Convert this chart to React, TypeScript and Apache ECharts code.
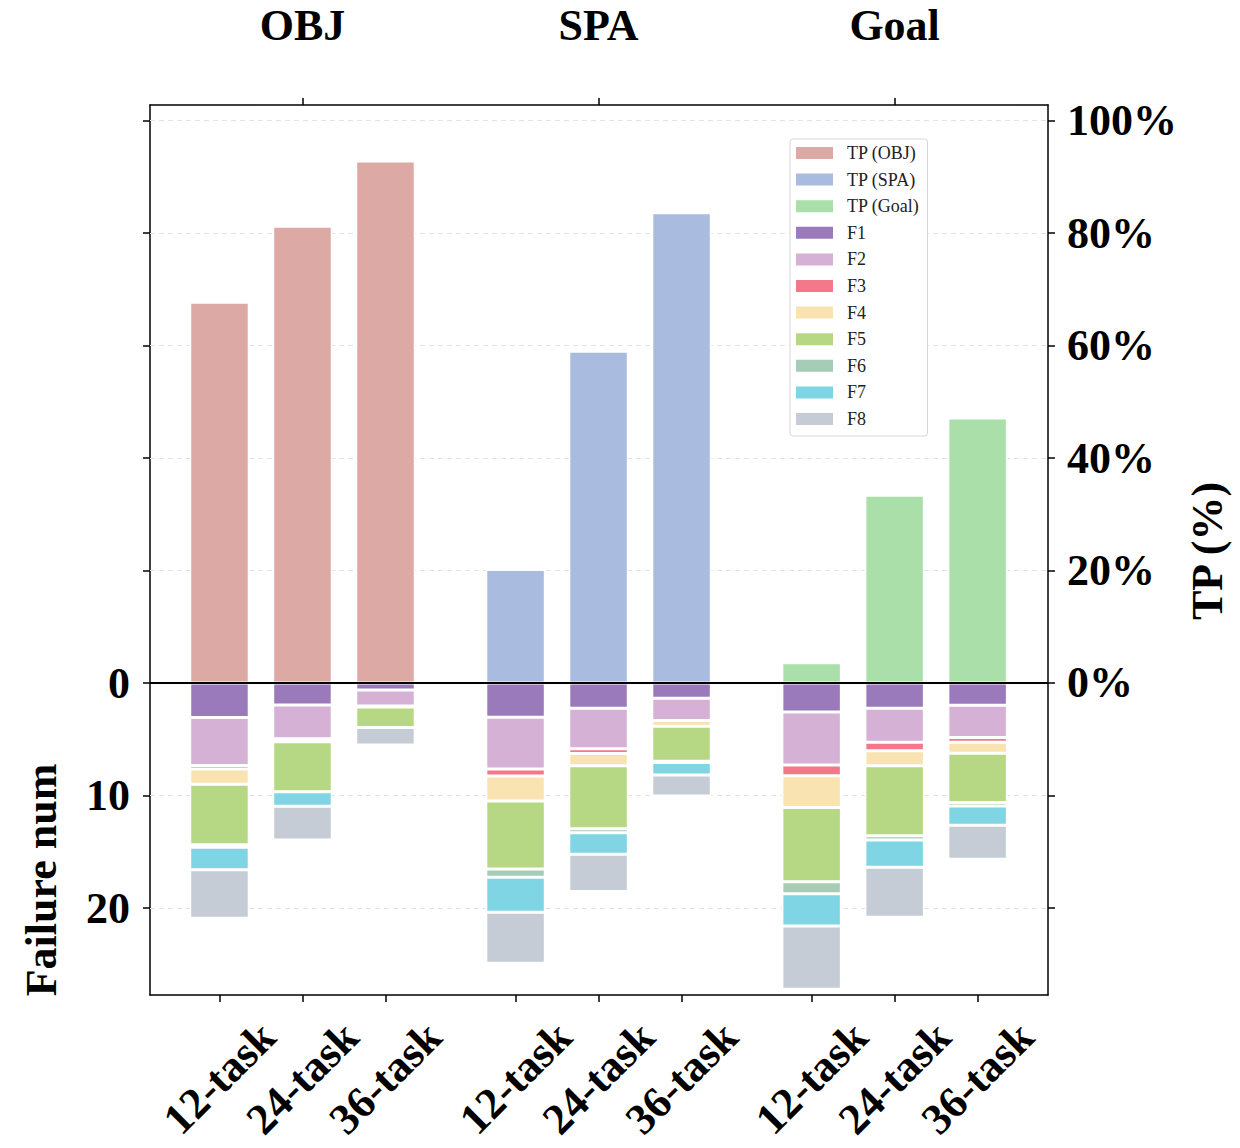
import React, { useEffect, useRef } from "react";
import * as echarts from "echarts";

// ---------- data ----------
const GROUPS = ["OBJ", "SPA", "Goal"];
const TASKS = ["12-task", "24-task", "36-task"];

const TP_OBJ = [67.7, 81.2, 92.8];
const TP_SPA = [20.2, 59.0, 83.6];
const TP_GOAL = [3.6, 33.4, 47.1];

// failure counts, ordered OBJ(12,24,36), SPA(12,24,36), Goal(12,24,36)
const F1 = [3.07, 1.96, 0.62, 3.05, 2.25, 1.35, 2.58, 2.25, 1.98];
const F2 = [4.27, 3.0, 1.42, 4.6, 3.59, 1.98, 4.71, 3.02, 2.86];
const F3 = [0.3, 0, 0, 0.62, 0.43, 0, 0.96, 0.76, 0.42];
const F4 = [1.35, 0.27, 0.1, 2.22, 1.09, 0.52, 2.82, 1.33, 0.99];
const F5 = [5.38, 4.43, 1.81, 6.04, 5.59, 3.11, 6.6, 6.22, 4.37];
const F6 = [0.22, 0, 0, 0.74, 0.36, 0.1, 1.05, 0.37, 0.31];
const F7 = [2.0, 1.29, 0, 3.11, 1.9, 1.11, 2.87, 2.42, 1.72];
const F8 = [4.31, 3.0, 1.56, 4.53, 3.33, 1.88, 5.64, 4.45, 3.02];

const FAILURE_LABELS = [0, 10, 20];
const FAILURE_TICKS = [-50, -40, -30, -20, -10, 0, 10, 20];
const PERCENT_LABELS = [0, 20, 40, 60, 80, 100];
const PERCENT_TICKS = [-40, -20, 0, 20, 40, 60, 80, 100];

// ---------- styling ----------
const TP_COLORS = ["#dca9a5", "#a9bbdf", "#abdfaa"];
const F_COLORS = ["#9a7abb", "#d5b2d5", "#f2788a", "#f9e3b1", "#b6d884", "#a5cdb5", "#7fd5e3", "#c5ccd6"];
const FONT = '"Liberation Serif", "Times New Roman", Times, serif';
const GROUP_STEP = 3.567;
const BAR_W = 59.5;
const SEP = 1.5;

const App: React.FC = () => {
  const ref = useRef<HTMLDivElement>(null);

  useEffect(() => {
    if (!ref.current) return;
    const chart = echarts.init(ref.current, null, { renderer: "svg" });

    const barPositions = GROUPS.flatMap((_, g) => TASKS.map((__, i) => g * GROUP_STEP + i));
    const groupCenters = GROUPS.map((_, g) => g * GROUP_STEP + (TASKS.length - 1) / 2);
    const findIdx = (list: number[], v: number) => list.findIndex((p) => Math.abs(p - v) < 1e-3);

    const tpLists = [TP_OBJ, TP_SPA, TP_GOAL];
    const fLists = [F1, F2, F3, F4, F5, F6, F7, F8];
    const tpNames = GROUPS.map((g) => `TP (${g})`);
    const fNames = fLists.map((_, i) => `F${i + 1}`);

    const axisLineStyle = { color: "#000", width: 1.5 };
    const gridLine = { color: "#e2e2e2", width: 1, type: [5, 4] as any };
    const bigLabel = { fontFamily: FONT, fontSize: 44, fontWeight: "bold" as const, color: "#000" };

    const series: any[] = [];
    tpLists.forEach((list, g) => {
      const s: any = {
        name: tpNames[g],
        type: "bar",
        xAxisIndex: 0,
        yAxisIndex: 1,
        barWidth: BAR_W,
        barGap: "-100%",
        encode: { x: 1, y: 0 },
        data: list.map((v, i) => [v, barPositions[g * TASKS.length + i]]),
        itemStyle: { color: TP_COLORS[g], borderColor: "#fff", borderWidth: SEP },
      };
      if (g === 0) {
        s.markLine = {
          silent: true,
          z: 1,
          symbol: ["none", "none"],
          label: { show: false },
          lineStyle: gridLine,
          emphasis: { disabled: true },
          data: PERCENT_LABELS.filter((v) => v > 0).map((v) => ({ yAxis: v })),
        };
      }
      series.push(s);
    });

    fLists.forEach((list, k) => {
      const s: any = {
        name: fNames[k],
        type: "bar",
        stack: "failures",
        xAxisIndex: 0,
        yAxisIndex: 0,
        barWidth: BAR_W,
        barGap: "-100%",
        encode: { x: 1, y: 0 },
        data: list.map((v, i) =>
          v > 0
            ? [v, barPositions[i]]
            : { value: [0, barPositions[i]], itemStyle: { borderWidth: 0, opacity: 0 } }
        ),
        itemStyle: { color: F_COLORS[k], borderColor: "#fff", borderWidth: SEP },
      };
      if (k === 0) {
        s.markLine = {
          silent: true,
          z: 1,
          symbol: ["none", "none"],
          label: { show: false },
          lineStyle: gridLine,
          emphasis: { disabled: true },
          data: FAILURE_LABELS.filter((v) => v > 0).map((v) => ({ yAxis: v })),
        };
      }
      if (k === 1) {
        s.markLine = {
          silent: true,
          z: 10,
          symbol: ["none", "none"],
          label: { show: false },
          lineStyle: { color: "#000", width: 2, type: "solid" },
          emphasis: { disabled: true },
          data: [{ yAxis: 0 }],
        };
      }
      series.push(s);
    });

    const xMin = -0.837;
    const xMax = 9.982;

    chart.setOption({
      animation: false,
      backgroundColor: "#fff",
      grid: { left: 150, top: 105, width: 898, height: 890, containLabel: false },
      legend: {
        orient: "vertical",
        left: 790,
        top: 139,
        data: [...tpNames, ...fNames],
        itemWidth: 37,
        itemHeight: 12,
        itemGap: 8.6,
        padding: [5, 8, 8, 6],
        borderColor: "#d6d6d6",
        borderWidth: 1,
        borderRadius: 3,
        backgroundColor: "#fff",
        icon: "rect",
        selectedMode: false,
        itemStyle: { borderWidth: 0 },
        textStyle: { fontFamily: FONT, fontSize: 18, color: "#222", padding: [0, 0, 0, 9] },
      },
      xAxis: [
        {
          type: "value",
          position: "bottom",
          min: xMin,
          max: xMax,
          axisLine: { show: true, onZero: false, lineStyle: axisLineStyle },
          axisTick: { show: true, customValues: barPositions, length: 7, lineStyle: axisLineStyle },
          axisLabel: {
            show: true,
            customValues: barPositions,
            formatter: (v: number) => {
              const i = findIdx(barPositions, v);
              return i >= 0 ? TASKS[i % TASKS.length] : "";
            },
            rotate: 45,
            align: "center",
            verticalAlign: "middle",
            margin: 83,
            ...bigLabel,
          },
          splitLine: { show: false },
        },
        {
          type: "value",
          position: "top",
          min: xMin,
          max: xMax,
          axisLine: { show: true, onZero: false, lineStyle: axisLineStyle },
          axisTick: { show: true, customValues: groupCenters, length: 7, lineStyle: axisLineStyle },
          axisLabel: {
            show: true,
            customValues: groupCenters,
            formatter: (v: number) => {
              const i = findIdx(groupCenters, v);
              return i >= 0 ? GROUPS[i] : "";
            },
            margin: 58,
            ...bigLabel,
          },
          splitLine: { show: false },
        },
      ],
      yAxis: [
        {
          type: "value",
          position: "left",
          inverse: true,
          min: -51.38,
          max: 27.73,
          axisLine: { show: true, onZero: false, lineStyle: axisLineStyle },
          axisTick: { show: true, customValues: FAILURE_TICKS, length: 7, lineStyle: axisLineStyle },
          axisLabel: {
            show: true,
            customValues: FAILURE_LABELS,
            formatter: (v: number) => String(v),
            margin: 20,
            ...bigLabel,
          },
          splitLine: { show: false },
        },
        {
          type: "value",
          position: "right",
          min: -55.47,
          max: 102.76,
          axisLine: { show: true, onZero: false, lineStyle: axisLineStyle },
          axisTick: { show: true, customValues: PERCENT_TICKS, length: 7, lineStyle: axisLineStyle },
          axisLabel: {
            show: true,
            customValues: PERCENT_LABELS,
            formatter: (v: number) => `${v}%`,
            margin: 19,
            ...bigLabel,
          },
          splitLine: { show: false },
        },
      ],
      graphic: [
        {
          type: "text",
          x: 41,
          y: 880,
          rotation: Math.PI / 2,
          style: {
            text: "Failure num",
            fontFamily: FONT,
            fontSize: 44,
            fontWeight: "bold",
            fill: "#000",
            align: "center",
            verticalAlign: "middle",
          },
        },
        {
          type: "text",
          x: 1207,
          y: 551,
          rotation: Math.PI / 2,
          style: {
            text: "TP (%)",
            fontFamily: FONT,
            fontSize: 44,
            fontWeight: "bold",
            fill: "#000",
            align: "center",
            verticalAlign: "middle",
          },
        },
      ],
      series,
    });

    return () => chart.dispose();
  }, []);

  return (
    <div
      ref={ref}
      style={{ position: "fixed", left: 0, top: 0, width: 1240, height: 1148, background: "#fff" }}
    />
  );
};

export default App;
